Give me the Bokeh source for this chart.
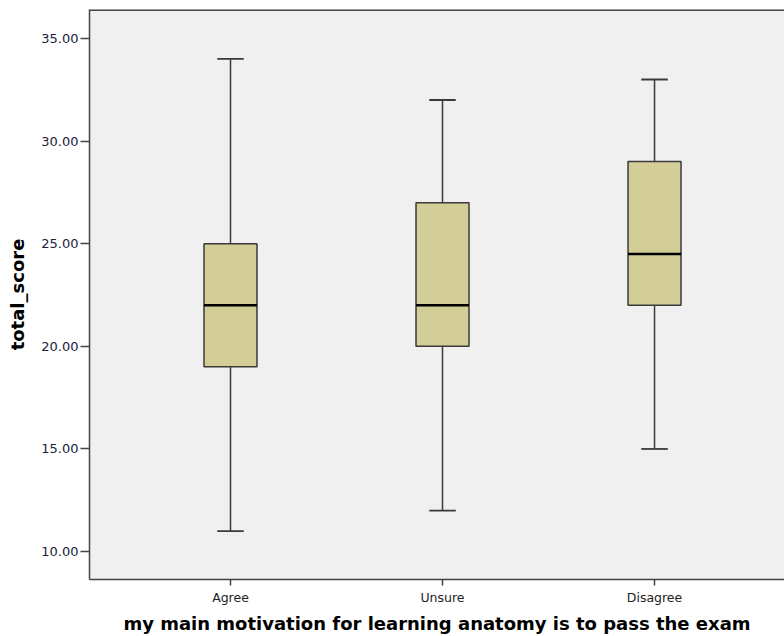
from bokeh.plotting import figure
from bokeh.models import Range1d, FixedTicker, PrintfTickFormatter, ColumnDataSource, Span
from bokeh.embed import file_html
from bokeh.resources import INLINE

categories = ["Agree", "Unsure", "Disagree"]
minimum = [11, 12, 15]
q1 = [19, 20, 22]
median = [22, 22, 24.5]
q3 = [25, 27, 29]
maximum = [34, 32, 33]
y_ticks = [10, 15, 20, 25, 30, 35]

pos = list(range(1, len(categories) + 1))
box_w = 0.25
cap_w = 0.125
y_lo, y_hi = 8.64, 36.41

src = ColumnDataSource(dict(
    x=pos, mn=minimum, q1=q1, med=median, q3=q3, mx=maximum,
    bl=[x - box_w / 2 for x in pos], br=[x + box_w / 2 for x in pos],
    cl=[x - cap_w / 2 for x in pos], cr=[x + cap_w / 2 for x in pos],
))

p = figure(width=784, height=636, output_backend="svg", toolbar_location=None,
           x_range=Range1d(0.335, 3.613), y_range=Range1d(y_lo, y_hi),
           min_border_left=89, min_border_top=9, min_border_right=0, min_border_bottom=0)

p.background_fill_color = "#f0f0f0"
p.border_fill_color = "white"
p.outline_line_color = None
p.grid.visible = False

# top border of the frame
p.add_layout(Span(location=y_hi, dimension="width", line_color="#444444", line_width=3))

line_c = "#3a3a3a"
p.segment("x", "q3", "x", "mx", source=src, line_color=line_c, line_width=1.5)
p.segment("x", "q1", "x", "mn", source=src, line_color=line_c, line_width=1.5)
p.segment("cl", "mx", "cr", "mx", source=src, line_color=line_c, line_width=1.8)
p.segment("cl", "mn", "cr", "mn", source=src, line_color=line_c, line_width=1.8)
p.vbar(x="x", width=box_w, bottom="q1", top="q3", source=src,
       fill_color="#d3ce97", line_color="#3a3a3a", line_width=1.5)
p.segment("bl", "med", "br", "med", source=src, line_color="black", line_width=2.5)

ya = p.yaxis[0]
ya.ticker = FixedTicker(ticks=y_ticks)
ya.formatter = PrintfTickFormatter(format="%.2f")
ya.axis_label = "total_score"
ya.axis_label_text_font = "DejaVu Sans"
ya.axis_label_text_font_style = "bold"
ya.axis_label_text_font_size = "18px"
ya.axis_label_text_color = "black"
ya.axis_label_standoff = 10
ya.major_label_text_font = "DejaVu Sans"
ya.major_label_text_font_size = "13px"
ya.major_label_text_color = "#1c1c3c"
ya.major_label_standoff = 2
ya.major_tick_out = 9
ya.major_tick_in = 0
ya.minor_tick_line_color = None
ya.major_tick_line_color = "#444444"
ya.major_tick_line_width = 1.5
ya.axis_line_color = "#444444"
ya.axis_line_width = 1.5

xa = p.xaxis[0]
xa.ticker = FixedTicker(ticks=pos)
xa.major_label_overrides = {x: c for x, c in zip(pos, categories)}
xa.axis_label = "my main motivation for learning anatomy is to pass the exam"
xa.axis_label_text_font = "DejaVu Sans"
xa.axis_label_text_font_style = "bold"
xa.axis_label_text_font_size = "18px"
xa.axis_label_text_color = "black"
xa.axis_label_standoff = 5
xa.major_label_text_font = "DejaVu Sans"
xa.major_label_text_font_size = "12.5px"
xa.major_label_text_color = "#222222"
xa.major_label_standoff = 4
xa.major_tick_out = 6
xa.major_tick_in = 0
xa.minor_tick_line_color = None
xa.major_tick_line_color = "#444444"
xa.major_tick_line_width = 1.5
xa.axis_line_color = "#444444"
xa.axis_line_width = 1.5

open("out.html", "w").write(file_html(p, INLINE))
